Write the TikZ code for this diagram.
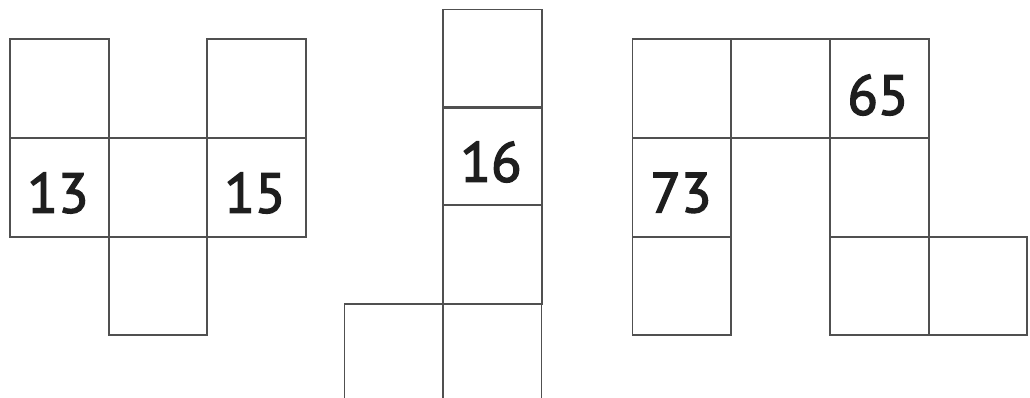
\documentclass[tikz,border=0pt]{standalone}
\usepackage{fontspec}
\setmainfont{PT Sans}
\newfontfamily\numfont[FakeBold=2.6]{PT Sans}
\definecolor{gridline}{HTML}{505050}
\definecolor{numtext}{HTML}{1E1E1E}
\tikzset{
  cellline/.style={draw=gridline, line width=1.1pt, line join=miter},
  numlabel/.style={font=\numfont\fontsize{32}{32}\selectfont, text=numtext, inner sep=0pt},
}
\newcommand{\cellat}[2]{\draw[cellline] (#1,#2) rectangle ++(98.7,98.7);}
\begin{document}
\begin{tikzpicture}[x=0.02cm, y=-0.02cm]
\clip (0,0) rectangle (1030,398);
\fill[white] (0,0) rectangle (1030,398);
% left figure
\cellat{10}{39.3}
\cellat{207.3}{39.3}
\cellat{10}{138}
\cellat{108.7}{138}
\cellat{207.3}{138}
\cellat{108.7}{236.7}
% middle figure
\cellat{443.3}{9.5}
\cellat{443.3}{106.7}
\cellat{443.3}{205.5}
\draw[cellline] (344.5,420) -- (344.5,304.2) -- (541.5,304.2) -- (541.5,420);
\draw[cellline] (443.3,304.2) -- (443.3,420);
% right figure
\cellat{632.5}{39.3}
\cellat{731.2}{39.3}
\cellat{829.9}{39.3}
\cellat{632.5}{138}
\cellat{632.5}{236.7}
\cellat{829.9}{138}
\cellat{829.9}{236.7}
\cellat{928.6}{236.7}
% numbers
\node[numlabel] (n13) at (58,193) {13};
\node[numlabel] (n15) at (255,193) {15};
\node[numlabel] (n16) at (491,162) {16};
\node[numlabel] (n65) at (878,95) {65};
\node[numlabel] (n73) at (681,193) {73};
\end{tikzpicture}
\end{document}
